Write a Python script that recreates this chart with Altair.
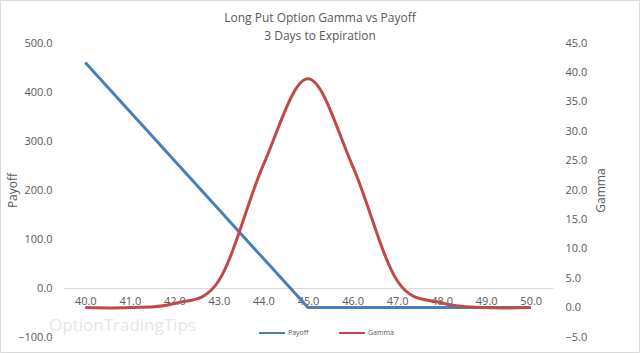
import altair as alt
import pandas as pd

strike = [40.0, 41.0, 42.0, 43.0, 44.0, 45.0, 46.0, 47.0, 48.0, 49.0, 50.0]
payoff = [460.0, 360.0, 260.0, 160.0, 60.0, -40.0, -40.0, -40.0, -40.0, -40.0, -40.0]
gamma = [0.0, 0.0, 0.7, 4.6, 24.3, 38.9, 24.1, 4.6, 0.8, 0.0, 0.0]

title_line1 = "Long Put Option Gamma vs Payoff"
title_line2 = "3 Days to Expiration"
series_names = ["Payoff", "Gamma"]
series_colors = ["#4A7EBB", "#BE4B48"]
left_ticks = [-100, 0, 100, 200, 300, 400, 500]
right_ticks = [-5, 0, 5, 10, 15, 20, 25, 30, 35, 40, 45]

FONT = "Open Sans"
GREY = "#595959"

df_pay = pd.DataFrame({"strike": strike, "value": payoff, "series": series_names[0]})
df_gam = pd.DataFrame({"strike": strike, "value": gamma, "series": series_names[1]})

x_scale = alt.Scale(domain=[39.5, 50.5], nice=False, zero=False)
color_scale = alt.Scale(domain=series_names, range=series_colors)


def x_axis():
    return alt.Axis(values=strike, format=".1f", title=None, offset=-49,
                    domainColor="#D9D9D9", domainWidth=1, ticks=False, tickSize=0,
                    grid=False, labelPadding=7, labelFontSize=11,
                    labelColor=GREY, labelFont=FONT)


pay_line = alt.Chart(df_pay).mark_line(strokeWidth=3).encode(
    x=alt.X("strike:Q", scale=x_scale, axis=x_axis()),
    y=alt.Y("value:Q", scale=alt.Scale(domain=[-100, 500], nice=False),
            axis=alt.Axis(values=left_ticks, format=".1f", title="Payoff",
                          domain=False, ticks=False, grid=False, labelPadding=11,
                          labelFontSize=11, labelColor=GREY, labelFont=FONT,
                          titleFont=FONT, titleFontSize=12, titleFontWeight="normal",
                          titleColor=GREY, titleAngle=-90, titleX=-51, titleY=147,
                          titleAlign="center", titleBaseline="middle")),
    color=alt.Color("series:N", scale=color_scale,
                    legend=alt.Legend(orient="none", legendX=195, legendY=276,
                                      direction="horizontal", title=None,
                                      symbolType="stroke", symbolSize=676,
                                      symbolStrokeWidth=2, labelFontSize=7,
                                      labelColor=GREY, labelFont=FONT,
                                      columnPadding=26, labelOffset=2)),
)

gam_line = alt.Chart(df_gam).mark_line(strokeWidth=3, interpolate="cardinal").encode(
    x=alt.X("strike:Q", scale=x_scale, axis=x_axis()),
    y=alt.Y("value:Q", scale=alt.Scale(domain=[-5, 45], nice=False),
            axis=alt.Axis(orient="right", values=right_ticks, format=".1f", title="Gamma",
                          domain=False, ticks=False, grid=False, labelPadding=12,
                          labelFontSize=11, labelColor=GREY, labelFont=FONT,
                          titleFont=FONT, titleFontSize=12, titleFontWeight="normal",
                          titleColor=GREY, titleAngle=-90, titleX=47, titleY=147,
                          titleAlign="center", titleBaseline="middle")),
    color=alt.Color("series:N", scale=color_scale, legend=None),
)

title1 = alt.Chart(pd.DataFrame({"t": [title_line1]})).mark_text(
    align="center", baseline="middle", font=FONT, fontSize=12, color=GREY
).encode(text="t:N", x=alt.value(257), y=alt.value(-25))

title2 = alt.Chart(pd.DataFrame({"t": [title_line2]})).mark_text(
    align="center", baseline="middle", font=FONT, fontSize=12, color=GREY
).encode(text="t:N", x=alt.value(257), y=alt.value(-7))

watermark = alt.Chart(pd.DataFrame({"t": ["OptionTradingTips"]})).mark_text(
    align="left", baseline="middle", font=FONT, fontSize=17, color="#E6E6E6"
).encode(text="t:N", x=alt.value(-14), y=alt.value(283))

border = alt.Chart(pd.DataFrame({"a": [0]})).mark_rect(
    fill=None, stroke="#D9D9D9", strokeWidth=1
).encode(x=alt.value(-62.5), x2=alt.value(576.5), y=alt.value(-42.5), y2=alt.value(309.5))

chart = alt.layer(border, watermark, title1, title2, pay_line, gam_line).resolve_scale(
    y="independent"
).properties(
    width=490, height=294,
    padding={"left": 63, "top": 43, "right": 87, "bottom": 16},
    autosize=alt.AutoSizeParams(type="none"),
).configure(background="white").configure_view(stroke=None, strokeWidth=0)

chart.save("out.html", embed_options={"renderer": "svg", "actions": False})
